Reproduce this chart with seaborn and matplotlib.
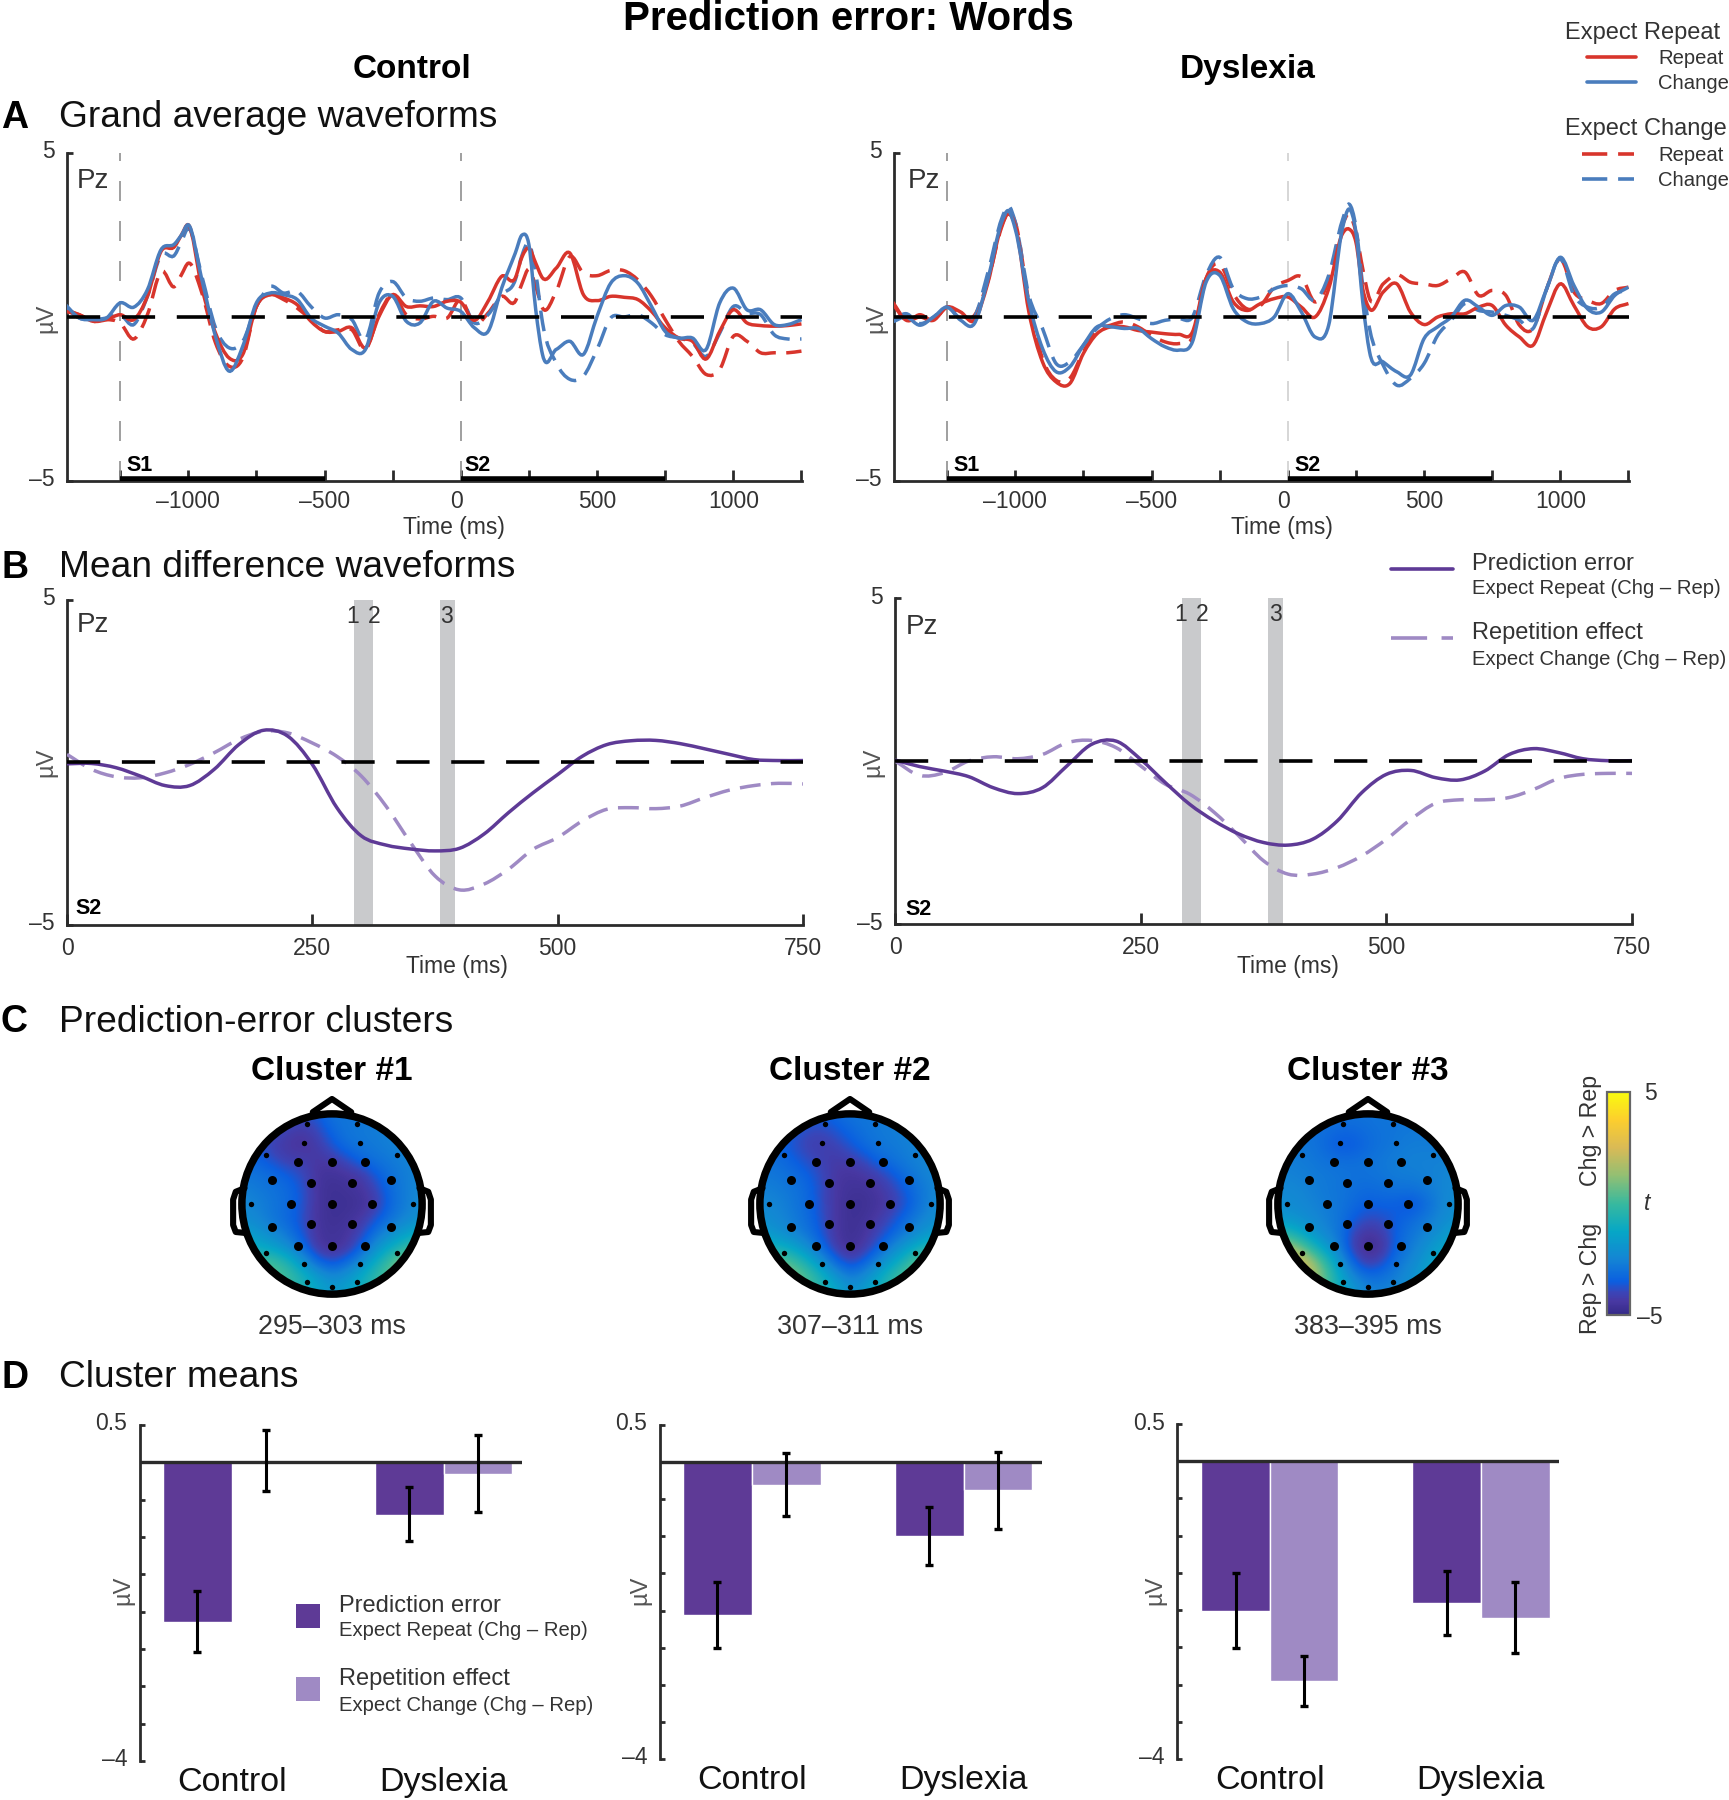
import numpy as np
import pandas as pd
import matplotlib
matplotlib.use('Agg')
import matplotlib.pyplot as plt
import seaborn as sns
from matplotlib.colors import LinearSegmentedColormap, Normalize
from matplotlib.cm import ScalarMappable
from matplotlib.patches import Circle, PathPatch
from matplotlib.path import Path
from matplotlib.transforms import ScaledTranslation

W, H = 1729, 1800

RED = '#D8352C'
BLUE = '#4A7DBD'
PURPLE = '#5E3A96'
LILAC = '#9F8AC4'
DARK = '#2B2B2B'
TXT = '#333333'

# Panel A, microvolts
time_a = [-1450, -1400, -1350, -1300, -1250, -1200, -1150, -1100, -1050, -1025, -1000, -950, -900, -850, -800,
          -750, -700, -650, -600, -550, -500, -450, -400, -350, -300, -250, -200, -150, -100, -50,
          0, 50, 100, 150, 200, 225, 250, 275, 300, 350, 400, 450, 500, 550, 600, 650, 700, 750, 800, 850,
          900, 950, 1000, 1050, 1100, 1150, 1200, 1250]

ctl_rep_solid = [.17, .07, -.13, -.08, .07, -.08, .63, 2.0, 2.15, 2.5, 2.81, .88, -.49, -1.25, -1.14, .32, .68, .58,
                 .37, -.13, -.44, -.44, -.33, -.94, .02, .68, .32, .34, .32, .48,
                 .45, -.1, .48, 1.24, 1.19, 1.84, 2.1, 1.64, 1.19, 1.49, 1.95, .68, .5, .63, .6, .53, .17, -.33,
                 -.64, -.74, -1.28, -.44, .22, -.18, -.26, -.28, -.26, -.21]
ctl_chg_solid = [.37, -.03, -.08, -.03, .43, .30, .83, 2.05, 2.23, 2.5, 2.81, 1.13, -.59, -1.65, -.89, .43, .73, .68,
                 .53, -.03, -.28, -.49, -.99, -.99, .43, .63, -.13, -.18, .48, .27,
                 .17, -.33, -.44, .88, 1.95, 2.5, 2.2, .22, -1.15, -.99, -.74, -1.14, .02, 1.03, 1.26, 1.03, .32,
                 -.44, -.64, -.64, -.99, .43, .88, .22, .22, -.23, -.23, -.08]
ctl_rep_dash = [.22, .07, -.13, -.08, -.18, -.67, .07, 1.39, .93, 1.29, 1.64, .73, -.79, -1.5, -1.25, .32, .68, .53,
                .27, -.08, -.44, -.39, -.39, -.99, .07, .68, .07, -.06, .02, -.03,
                .53, -.23, .12, .63, .48, 1.03, 1.46, .93, .27, .78, 1.84, 1.34, 1.26, 1.42, 1.41, 1.13, .63, -.08,
                -.74, -1.2, -1.75, -1.6, -.59, -.74, -1.09, -1.09, -1.09, -1.04]
ctl_chg_dash = [.27, -.03, -.08, -.03, .07, -.23, .63, 1.89, 1.89, 2.3, 2.7, 1.24, -.33, -.94, -.74, .32, .93, .73,
                .78, .32, -.03, .07, -.08, -.69, .73, 1.08, .58, .48, .58, .53,
                .58, -.18, .07, .68, 1.13, 1.89, 2.25, 1.34, -.18, -1.4, -1.9, -1.8, -.99, -.03, 0, .07, -.18, -.54,
                -.64, -.79, -1.2, -.49, .32, .12, .07, -.54, -.67, -.67]

dys_rep_solid = [.4, -.1, 0, -.1, .3, .15, -.1, 1.06, 2.79, 3.14, 2.79, .15, -1.37, -1.98, -2.03, -1.11, -.51, -.3,
                 -.3, -.41, -.46, -.51, -.53, -.46, 1.17, 1.37, .46, .2, .41, .56,
                 .61, .3, 0, .86, 2.53, 2.68, 2.28, .86, .25, .76, 1.01, .15, -.23, 0, .1, .1, .3, .35, -.25, -.61,
                 -.86, .15, 1.01, .35, -.3, -.3, .25, .41]
dys_chg_solid = [-.15, 0, -.25, 0, .3, -.1, -.2, 1.17, 2.89, 3.24, 2.68, .46, -.96, -1.67, -1.52, -.86, -.3, -.3,
                 -.35, -.35, -.66, -.91, -1.01, -.76, 1.06, 1.27, .25, -.15, -.2, 0,
                 .71, .15, -.61, -.25, 2.68, 3.29, 2.58, .46, -1.06, -1.37, -1.67, -1.77, -.66, -.3, 0, .51, .3, .05,
                 .35, .3, -.1, .86, 1.82, .96, .25, .15, .66, .91]
dys_rep_dash = [.46, -.1, .07, -.1, .3, .05, .05, 1.11, 2.74, 3.19, 2.89, .46, -1.27, -1.93, -1.87, -1.06, -.41, -.25,
                -.15, -.3, -.56, -.76, -.81, -.61, 1.17, 1.62, .71, .25, .35, .91,
                1.11, 1.22, .46, 1.11, 2.79, 3.14, 2.58, 1.47, .56, 1.01, 1.29, 1.06, 1.01, .96, 1.17, 1.37, .66, .81,
                .66, -.25, -.35, .86, 1.77, .76, .51, .41, .81, .91]
dys_chg_dash = [-.1, .1, -.2, 0, .3, -.05, 0, 1.37, 2.99, 3.39, 2.89, .66, -.35, -1.42, -1.37, -.86, -.35, -.05,
                .07, -.05, -.2, -.1, -.05, 0, 1.27, 1.82, .86, .56, .61, .86,
                .96, .86, .51, 1.27, 2.94, 3.44, 2.74, .96, -.35, -1.47, -2.08, -1.87, -1.42, -.56, -.1, .41, .2, .15,
                .05, -.1, -.35, .86, 1.77, .66, .3, .3, .71, .81]

# Panel B
time_b = list(range(0, 751, 25))
ctl_pred = [-.04, -.03, -.16, -.42, -.71, -.71, -.21, .55, .99, .81, -.06, -1.39, -2.26, -2.54, -2.66, -2.72, -2.64,
            -2.2, -1.54, -.93, -.37, .19, .55, .67, .68, .58, .42, .25, .09, .06, .06]
ctl_repe = [.25, -.21, -.44, -.47, -.32, -.06, .3, .71, .96, .91, .6, .19, -.42, -1.34, -2.46, -3.49, -3.92, -3.74,
            -3.28, -2.67, -2.31, -1.8, -1.44, -1.39, -1.42, -1.34, -1.08, -.85, -.71, -.64, -.66]
dys_pred = [.03, -.17, -.31, -.48, -.82, -1.0, -.82, -.15, .51, .61, .05, -.66, -1.33, -1.84, -2.24, -2.5, -2.58,
            -2.4, -1.84, -.97, -.41, -.29, -.51, -.58, -.31, .2, .38, .26, .07, .01, .01]
dys_repe = [0, -.44, -.36, 0, .13, .07, .2, .56, .63, .41, -.15, -.71, -1.02, -1.58, -2.3, -3.06, -3.47, -3.47,
            -3.27, -2.91, -2.4, -1.79, -1.3, -1.19, -1.19, -1.12, -.87, -.54, -.41, -.38, -.38]
cluster_windows = [(292, 304), (304, 311.5), (380, 395)]
cluster_mid = [291, 313, 387]

# Panel C, t values on a 13x13 scalp grid (front row first, left to right)
topo_1 = [[-3.2, -3.2, -3.4, -3.6, -3.8, -3.6, -3.0, -2.9, -2.9, -2.8, -2.7, -2.7, -2.7],
          [-3.3, -3.4, -3.8, -4.2, -4.4, -4.0, -3.3, -2.9, -2.8, -2.7, -2.6, -2.6, -2.6],
          [-3.4, -3.7, -4.2, -4.4, -4.5, -4.3, -3.7, -3.1, -2.9, -2.8, -2.6, -2.5, -2.5],
          [-3.2, -3.4, -3.8, -4.2, -4.2, -4.4, -4.3, -3.9, -3.3, -3.0, -2.8, -2.6, -2.5],
          [-2.9, -3.0, -3.2, -3.5, -3.9, -4.5, -4.6, -4.5, -4.3, -3.6, -3.0, -2.7, -2.5],
          [-2.6, -2.8, -3.0, -3.2, -3.7, -4.5, -4.7, -4.6, -4.5, -4.0, -3.2, -2.7, -2.4],
          [-2.4, -2.6, -2.9, -3.2, -3.7, -4.5, -4.7, -4.7, -4.6, -4.3, -3.3, -2.7, -2.3],
          [-2.2, -2.5, -2.9, -3.3, -3.8, -4.5, -4.7, -4.6, -4.4, -3.7, -3.0, -2.5, -2.1],
          [-1.5, -1.9, -2.4, -2.9, -3.7, -4.5, -4.6, -4.5, -4.0, -3.0, -2.2, -1.6, -1.0],
          [-.8, -1.1, -1.5, -2.2, -3.1, -4.4, -4.6, -4.4, -3.4, -2.1, -1.1, -.3, .4],
          [.2, .3, .2, -.6, -1.9, -3.2, -3.8, -3.2, -2.2, -1.0, .2, 1.4, 2.0],
          [.6, .6, .5, .1, -.7, -1.6, -2.3, -1.9, -1.1, -.2, .6, 1.5, 2],
          [.6, .5, .3, -.1, -.7, -1.3, -1.8, -1.5, -.9, -.3, .3, .9, 1.3]]
topo_2 = [[-3, -3, -3.2, -3.4, -3.5, -3.3, -3, -2.9, -2.8, -2.7, -2.7, -2.7, -2.7],
          [-3.1, -3.2, -3.5, -3.9, -4.0, -3.7, -3.3, -3.0, -2.8, -2.7, -2.6, -2.6, -2.6],
          [-3.1, -3.3, -3.7, -4.1, -4.2, -4.1, -3.7, -3.2, -2.9, -2.8, -2.6, -2.5, -2.5],
          [-3.0, -3.1, -3.4, -3.8, -4.1, -4.3, -4.2, -3.9, -3.3, -3.0, -2.7, -2.5, -2.4],
          [-2.8, -2.9, -3.1, -3.4, -3.9, -4.4, -4.5, -4.4, -4.1, -3.6, -3.0, -2.6, -2.4],
          [-2.6, -2.7, -2.9, -3.2, -3.8, -4.4, -4.6, -4.6, -4.4, -4.0, -3.4, -2.8, -2.4],
          [-2.4, -2.5, -2.8, -3.2, -3.8, -4.4, -4.7, -4.7, -4.5, -4.2, -3.6, -2.8, -2.3],
          [-2.1, -2.4, -2.7, -3.1, -3.7, -4.4, -4.7, -4.6, -4.3, -3.8, -3.1, -2.5, -2.1],
          [-1.7, -2.0, -2.4, -2.9, -3.6, -4.4, -4.7, -4.5, -4.0, -3.3, -2.6, -2.0, -1.6],
          [-.6, -.8, -1.3, -2.1, -3.1, -4.2, -4.7, -4.3, -3.4, -2.4, -1.5, -.7, -.2],
          [.6, .7, .3, -.7, -1.9, -3.2, -4.0, -3.4, -2.3, -1.3, -.2, 1, 1.7],
          [1.2, 1.3, 1.1, .4, -.7, -1.8, -2.7, -2.2, -1.2, -.2, .6, 1.5, 2],
          [1.1, 1, .8, .3, -.4, -1.2, -2, -1.7, -.8, -.1, .6, 1.2, 1.4]]
topo_3 = [[-2.9, -3, -3, -3, -3, -3, -3, -2.9, -2.9, -2.9, -2.8, -2.8, -2.8],
          [-2.9, -2.9, -3, -3.1, -3.3, -3.3, -3.1, -3, -2.9, -2.8, -2.8, -2.8, -2.7],
          [-2.8, -2.8, -2.9, -3.2, -3.6, -3.6, -3.2, -3, -2.8, -2.7, -2.7, -2.7, -2.6],
          [-2.7, -2.7, -2.8, -3, -3.1, -3.1, -3, -2.8, -2.7, -2.6, -2.6, -2.6, -2.5],
          [-2.5, -2.6, -2.7, -2.8, -2.9, -3, -3, -2.9, -2.7, -2.7, -2.6, -2.5, -2.4],
          [-2.4, -2.4, -2.6, -2.8, -2.9, -3.1, -3.2, -3.1, -3, -3, -2.8, -2.5, -2.3],
          [-2.2, -2.3, -2.5, -2.7, -2.9, -3.2, -3.5, -3.4, -3.5, -3.8, -3.2, -2.5, -2.2],
          [-1.8, -2.0, -2.3, -2.6, -2.9, -3.5, -3.9, -3.8, -3.5, -3.2, -2.8, -2.4, -2.0],
          [-.3, -.9, -1.7, -2.4, -2.9, -4.0, -4.5, -4.2, -3.4, -2.9, -2.5, -2.0, -1.5],
          [2, 1.3, -.2, -1.5, -2.6, -4.2, -4.8, -4.5, -3.3, -2.7, -2.1, -1.4, -.9],
          [3.0, 3.0, 1.9, 0, -1.7, -3.4, -4.3, -3.8, -2.9, -2.4, -1.7, -1, -.7],
          [3, 3, 2.2, .7, -1.1, -2.4, -3.1, -3.0, -2.6, -2.1, -1.5, -1, -.7],
          [2, 2, 1.5, .4, -1, -1.8, -2.5, -2.6, -2.4, -2, -1.5, -1, -.8]]
cluster_titles = ['Cluster #1', 'Cluster #2', 'Cluster #3']
cluster_times = ['295–303 ms', '307–311 ms', '383–395 ms']
parula_stops = [(0, '#352A87'), (.06, '#4838A2'), (.1, '#3A45B8'), (.15, '#0B5FE0'), (.25, '#1485D4'), (.375, '#06A7C6'),
                (.5, '#38B99E'), (.625, '#92BF73'), (.75, '#D9BA56'), (.875, '#FCCE2E'), (1, '#F9FB0E')]

elec_big = [(-.384, .48), (0, .48), (.373, .48), (-.68, .27), (-.236, .236), (.229, .236), (.67, .27),
            (-.467, 0), (0, 0), (.461, 0), (-.68, -.259), (-.236, -.232), (.229, -.232), (.67, -.259),
            (-.384, -.476), (0, -.476), (.373, -.476)]
elec_small = [(-.29, .91), (.29, .91), (-.316, .693), (.316, .693), (-.754, .56), (.747, .56), (-.926, 0), (.922, 0),
              (-.754, -.557), (.747, -.557), (-.316, -.69), (.316, -.69), (-.29, -.895), (.29, -.895), (0, -.945)]

# Panel D
groups = ['Control', 'Dyslexia']
effects = ['Prediction error', 'Repetition effect']
d1_mean = [[-2.14, -.70], [0, -.16]]
d1_low = [[-2.54, -1.06], [-.39, -.67]]
d1_high = [[-1.72, -.33], [.43, .36]]
d2_mean = [[-2.06, -.99], [-.31, -.38]]
d2_low = [[-2.50, -1.38], [-.72, -.90]]
d2_high = [[-1.62, -.60], [.12, .13]]
d3_mean = [[-2.01, -1.90], [-2.95, -2.10]]
d3_low = [[-2.51, -2.33], [-3.29, -2.57]]
d3_high = [[-1.50, -1.48], [-2.61, -1.62]]


def add_ax(x0, y0, x1, y1):
    return fig.add_axes([x0 / W, 1 - y1 / H, (x1 - x0) / W, (y1 - y0) / H])


def put(x, y, s, size=16.5, **kw):
    kw.setdefault('va', 'center')
    kw.setdefault('color', TXT)
    fig.text(x / W, 1 - (y + 2.5) / H, s, fontsize=size, **kw)


def lift_ylabels(ax, px=3.5):
    for lbl in ax.get_yticklabels():
        lbl.set_transform(lbl.get_transform() + ScaledTranslation(0, px / 100, fig.dpi_scale_trans))


def smooth_line(ax, line, style, lw):
    # the ERP traces are smooth, so bend the path between the read values instead of using straight segments
    xy = line.get_xydata()
    x, y = xy[:, 0], xy[:, 1]
    slope = np.gradient(y, x)
    verts = [(x[0], y[0])]
    codes = [Path.MOVETO]
    for i in range(len(x) - 1):
        dx = (x[i + 1] - x[i]) / 3
        verts += [(x[i] + dx, y[i] + slope[i] * dx), (x[i + 1] - dx, y[i + 1] - slope[i + 1] * dx), (x[i + 1], y[i + 1])]
        codes += [Path.CURVE4] * 3
    ax.add_patch(PathPatch(Path(verts, codes), fill=False, ec=line.get_color(), lw=lw, ls=style, zorder=4,
                           capstyle='butt'))
    line.set_visible(False)


def wave(ax, x, y, color, dashed=False, lw=2.5):
    style = (0, (6, 3)) if dashed else '-'
    sns.lineplot(x=x, y=y, color=color, linewidth=lw, estimator=None, errorbar=None, sort=False, ax=ax)
    smooth_line(ax, ax.lines[-1], style, lw)


def style_wave_axes(ax, xlim, xticks, xlabels, xpad):
    sns.despine(ax=ax)
    ax.set_xlim(xlim)
    ax.set_ylim(-5, 5)
    for s in ['left', 'bottom']:
        ax.spines[s].set_linewidth(2)
        ax.spines[s].set_color(DARK)
    ax.set_xticks(xticks)
    ax.set_xticklabels(xlabels)
    ax.set_yticks([-5, 5])
    ax.set_yticklabels(['–5', '5'])
    ax.tick_params(axis='x', bottom=True, direction='in', length=8, width=2, color=DARK, labelsize=16.5,
                   labelcolor=TXT, pad=xpad)
    ax.tick_params(axis='y', left=True, direction='in', length=4, width=2, color=DARK, labelsize=16.5,
                   labelcolor=TXT, pad=9)
    lift_ylabels(ax)
    ax.set_xlabel('')
    ax.set_ylabel('')
    ax.patch.set_alpha(0)
    ax.axhline(0, color='black', lw=2.6, linestyle=(0, (9.2, 6)), zorder=5)


def panel_a(box, series, vline_s2_color):
    ax = add_ax(*box)
    for t0, col in zip([-1250, 0], ['#8F8F8F', vline_s2_color]):
        ax.axvline(t0, color=col, lw=1.2, linestyle=(0, (12, 12)), zorder=1)
    for y, col, dashed in series:
        wave(ax, time_a, y, col, dashed)
    ticks = list(range(-1250, 1251, 250))
    labels = [f'{t}'.replace('-', '–') if t % 500 == 0 else '' for t in ticks]
    style_wave_axes(ax, (-1445, 1252), ticks, labels, 6.5)
    for lbl, t in zip(ax.get_xticklabels(), ticks):
        if t == 0:
            lbl.set_transform(lbl.get_transform() + ScaledTranslation(-4 / 100, 0, fig.dpi_scale_trans))
    for t0 in [-1250, 0]:
        ax.plot([t0, t0 + 750], [-4.93, -4.93], color='black', lw=4, solid_capstyle='butt', zorder=6)
    return ax


def panel_b(box, pred, repe):
    ax = add_ax(*box)
    for w in cluster_windows:
        ax.axvspan(w[0], w[1], color='#C9CACC', lw=0, zorder=1)
    wave(ax, time_b, repe, LILAC, True)
    wave(ax, time_b, pred, PURPLE)
    style_wave_axes(ax, (0, 750), [0, 250, 500, 750], ['0', '250', '500', '750'], 8.5)
    for i, t0 in enumerate(cluster_mid):
        ax.text(t0, 4.5, str(i + 1), ha='center', va='center', fontsize=16.5, color=TXT, zorder=6)
    return ax


def head(cx, cy, grid):
    r = 87.5
    half = 1.3 * r
    ax = add_ax(cx - half, cy - half, cx + half, cy + half)
    ax.set_xlim(-1.3, 1.3)
    ax.set_ylim(-1.3, 1.3)
    ax.axis('off')
    step = 1 / 12
    im = ax.imshow(grid, cmap=cmap, vmin=-5, vmax=5, interpolation='bicubic',
                   extent=(-1 - step, 1 + step, -1 - step, 1 + step), zorder=1)
    ax.set_xlim(-1.3, 1.3)
    ax.set_ylim(-1.3, 1.3)
    im.set_clip_path(Circle((0, 0), 1.03, transform=ax.transData))
    ax.add_patch(Circle((0, 0), 1.03, fill=False, ec='black', lw=5.4, zorder=3))
    ax.plot([-.22, 0, .22], [1.05, 1.2, 1.05], color='black', lw=4.4, zorder=2, solid_joinstyle='round')
    for sign in [-1, 1]:
        ax.plot([sign * 1.0, sign * 1.1, sign * 1.13, sign * 1.13, sign * 1.1, sign * 1.0],
                [.18, .14, .05, -.24, -.32, -.33], color='black', lw=4.4, zorder=2, solid_joinstyle='round')
    ax.scatter(*zip(*elec_big), s=42, color='black', lw=0, zorder=4)
    ax.scatter(*zip(*elec_small), s=15, color='black', lw=0, zorder=4)


def bars(box, xlim, mean, low, high):
    ax = add_ax(*box)
    df = pd.DataFrame({'group': groups * 2,
                       'effect': [effects[0]] * 2 + [effects[1]] * 2,
                       'mean': mean[0] + mean[1]})
    sns.barplot(data=df, x='group', y='mean', hue='effect', palette=[PURPLE, LILAC], width=.65, gap=0,
                saturation=1, legend=False, errorbar=None, ax=ax)
    for cont, lo, hi in zip(ax.containers, low, high):
        for bar, a, b in zip(cont, lo, hi):
            xc = bar.get_x() + bar.get_width() / 2
            ax.errorbar([xc], [(a + b) / 2], yerr=[(b - a) / 2], color='black', lw=2.2, capsize=3.2, capthick=2.4,
                        zorder=6)
    sns.despine(ax=ax, bottom=True)
    ax.spines['left'].set_linewidth(2)
    ax.spines['left'].set_color(DARK)
    ax.axhline(0, color=DARK, lw=2.4, zorder=5)
    ax.set_xlim(xlim)
    ax.set_ylim(-4, .5)
    ticks = [.5, 0, -.5, -1, -1.5, -2, -2.5, -3, -3.5, -4]
    ax.set_yticks(ticks)
    ax.set_yticklabels(['0.5'] + [''] * 8 + ['–4'])
    ax.tick_params(axis='y', left=True, direction='in', length=3.5, width=2, color=DARK, labelsize=16.5,
                   labelcolor=TXT, pad=9)
    lift_ylabels(ax)
    ax.tick_params(axis='x', length=0, labelsize=24.5, pad=4.5, labelcolor='#111111')
    ax.set_xlabel('')
    ax.set_ylabel('')
    ax.patch.set_alpha(0)


sns.set_style('white')
plt.rcParams['font.family'] = ['Liberation Sans', 'DejaVu Sans']
fig = plt.figure(figsize=(W / 100, H / 100), dpi=100)
cmap = LinearSegmentedColormap.from_list('parula', parula_stops)

# Headings
put(848, 17, 'Prediction error: Words', 29, ha='center', weight='bold', color='black')
put(412, 67, 'Control', 24, ha='center', weight='bold', color='black')
put(1248, 67, 'Dyslexia', 24, ha='center', weight='bold', color='black')
for y, letter, title in [(115, 'A', 'Grand average waveforms'), (565, 'B', 'Mean difference waveforms'),
                         (1020, 'C', 'Prediction-error clusters'), (1375, 'D', 'Cluster means')]:
    put(1, y, letter, 27, weight='bold', color='black')
    put(59, y, title, 26.7, color='#111111')

# A
panel_a((67, 153, 802, 481), [(ctl_rep_dash, RED, True), (ctl_chg_dash, BLUE, True),
                              (ctl_rep_solid, RED, False), (ctl_chg_solid, BLUE, False)], '#8F8F8F')
panel_a((894, 153, 1629, 481), [(dys_rep_dash, RED, True), (dys_chg_dash, BLUE, True),
                                (dys_rep_solid, RED, False), (dys_chg_solid, BLUE, False)], '#CFCFCF')
for x, s1, s2 in [(77, 126, 464), (908, 953, 1294)]:
    put(x, 178, 'Pz', 20)
    put(s1, 463, 'S1', 15.5, weight='bold', color='black')
    put(s2, 463, 'S2', 15.5, weight='bold', color='black')
put(454, 525, 'Time (ms)', ha='center')
put(1282, 525, 'Time (ms)', ha='center')
put(46, 316, 'µV', 17, ha='center', rotation=90, color='#555555')
put(876, 316, 'µV', 17, ha='center', rotation=90, color='#555555')

# Legend top right, plain lines on a figure-wide axes
lg = fig.add_axes([0, 0, 1, 1])
lg.set_xlim(0, W)
lg.set_ylim(H, 0)
lg.axis('off')
lg.patch.set_alpha(0)
for y, head_txt, dashed in [(30, 'Expect Repeat', False), (127, 'Expect Change', True)]:
    put(1565, y, head_txt, 17)
    for dy, col, lab in [(27, RED, 'Repeat'), (52, BLUE, 'Change')]:
        x0, x1 = (1582, 1634) if dashed else (1587, 1636)
        lg.plot([x0, x1], [y + dy, y + dy], color=col, lw=2.6, linestyle=(0, (7, 3)) if dashed else '-')
        put(1658, y + dy - 1, lab, 14.6)

# B
panel_b((67, 600, 803, 925), ctl_pred, ctl_repe)
panel_b((895, 598, 1632, 924), dys_pred, dys_repe)
put(77, 623, 'Pz', 20)
put(906, 625, 'Pz', 20)
put(75, 906, 'S2', 15.5, weight='bold', color='black')
put(905, 907, 'S2', 15.5, weight='bold', color='black')
put(457, 964, 'Time (ms)', ha='center')
put(1288, 964, 'Time (ms)', ha='center')
put(46, 760, 'µV', 17, ha='center', rotation=90, color='#555555')
put(873, 760, 'µV', 17, ha='center', rotation=90, color='#555555')
lg.plot([1391, 1453], [569, 569], color=PURPLE, lw=2.6)
lg.plot([1391, 1453], [638, 638], color=LILAC, lw=2.6, linestyle=(0, (10, 4)))
put(1472, 561, 'Prediction error', 17)
put(1472, 585.5, 'Expect Repeat (Chg – Rep)', 14.6)
put(1472, 631, 'Repetition effect', 17)
put(1472, 657, 'Expect Change (Chg – Rep)', 14.6)

# C
for cx, title, when, grid in zip([332, 850, 1368], cluster_titles, cluster_times, [topo_1, topo_2, topo_3]):
    head(cx, 1204, grid)
    put(cx, 1069, title, 24, ha='center', weight='bold', color='black')
    put(cx, 1325, when, 19.4, ha='center')

cax = add_ax(1607, 1092, 1630, 1315)
cb = fig.colorbar(ScalarMappable(norm=Normalize(-5, 5), cmap=cmap), cax=cax)
cb.set_ticks(range(-5, 6))
cb.set_ticklabels([])
cb.ax.tick_params(right=True, direction='in', length=3.5, width=1.2, color='#444444')
cb.outline.set_edgecolor('#666666')
cb.outline.set_linewidth(1.6)
put(1650, 1091, '5', ha='center')
put(1650, 1315, '–5', ha='center')
put(1647, 1201, 't', ha='center', style='italic')
put(1590, 1128, 'Chg > Rep', 16.7, ha='center', rotation=90)
put(1590, 1276, 'Rep > Chg', 16.7, ha='center', rotation=90)

# D
bars((140, 1425, 522, 1761), (-.434, 1.37), d1_mean, d1_low, d1_high)
bars((660, 1425, 1042, 1759), (-.434, 1.37), d2_mean, d2_low, d2_high)
bars((1177, 1424, 1559, 1759), (-.44, 1.37), d3_mean, d3_low, d3_high)
for x in [123, 640, 1155]:
    put(x, 1588, 'µV', 17, ha='center', rotation=90, color='#555555')
for y0, col in [(1604, PURPLE), (1677, LILAC)]:
    lg.fill_between([296, 320], [y0, y0], [y0 + 24, y0 + 24], color=col, lw=0)
put(339, 1604, 'Prediction error', 17)
put(339, 1628, 'Expect Repeat (Chg – Rep)', 14.6)
put(339, 1677, 'Repetition effect', 17)
put(339, 1703, 'Expect Change (Chg – Rep)', 14.6)

fig.savefig('out.png', dpi=100)
